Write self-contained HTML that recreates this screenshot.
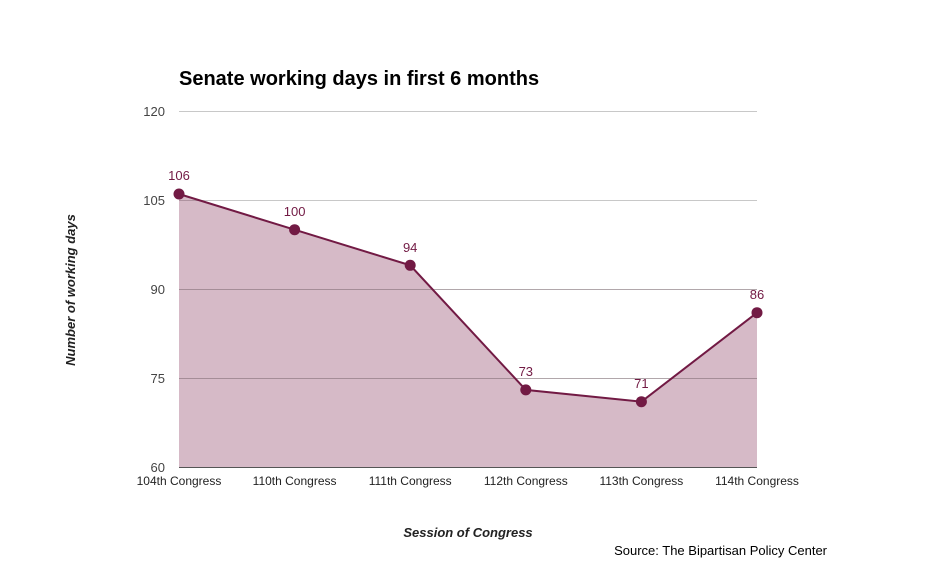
<!DOCTYPE html>
<html><head><style>body{margin:0;background:#fff}</style></head><body>
<svg width="935" height="578" xmlns="http://www.w3.org/2000/svg" font-family="Liberation Sans, Arial, sans-serif">
<rect width="935" height="578" fill="#fff"/>
<text x="179" y="85" font-size="20" font-weight="bold" fill="#000">Senate working days in first 6 months</text>
<g stroke="#c8c8c8" stroke-width="1">
<line x1="179" y1="111.5" x2="757" y2="111.5"/>
<line x1="179" y1="200.5" x2="757" y2="200.5"/>
<line x1="179" y1="289.5" x2="757" y2="289.5"/>
<line x1="179" y1="378.5" x2="757" y2="378.5"/>
</g>
<polygon points="179,194 294.6,229.7 410.2,265.3 525.8,389.9 641.4,401.7 757,312.7 757,467 179,467" fill="#761b45" fill-opacity="0.3"/>
<g stroke="#9c8890" stroke-width="1" opacity="0.5">
<line x1="179" y1="289.5" x2="757" y2="289.5"/>
<line x1="179" y1="378.5" x2="757" y2="378.5"/>
</g>
<line x1="179" y1="467.5" x2="757" y2="467.5" stroke="#555" stroke-width="1"/>
<polyline points="179,194 294.6,229.7 410.2,265.3 525.8,389.9 641.4,401.7 757,312.7" fill="none" stroke="#721a44" stroke-width="2"/>
<g fill="#721a44">
<circle cx="179" cy="194" r="5.5"/><circle cx="294.6" cy="229.7" r="5.5"/><circle cx="410.2" cy="265.3" r="5.5"/>
<circle cx="525.8" cy="389.9" r="5.5"/><circle cx="641.4" cy="401.7" r="5.5"/><circle cx="757" cy="312.7" r="5.5"/>
</g>
<g font-size="13" fill="#721a44" text-anchor="middle">
<text x="179" y="180">106</text><text x="294.6" y="216">100</text><text x="410.2" y="252">94</text>
<text x="525.8" y="376">73</text><text x="641.4" y="388">71</text><text x="757" y="299">86</text>
</g>
<g font-size="13" fill="#444" text-anchor="end">
<text x="165" y="116">120</text><text x="165" y="205">105</text><text x="165" y="294">90</text>
<text x="165" y="383">75</text><text x="165" y="472">60</text>
</g>
<g font-size="12" fill="#222" text-anchor="middle">
<text x="179" y="485">104th Congress</text><text x="294.6" y="485">110th Congress</text><text x="410.2" y="485">111th Congress</text>
<text x="525.8" y="485">112th Congress</text><text x="641.4" y="485">113th Congress</text><text x="757" y="485">114th Congress</text>
</g>
<text x="468" y="537" font-size="13" font-weight="bold" font-style="italic" text-anchor="middle" fill="#222">Session of Congress</text>
<text transform="translate(75,290) rotate(-90)" font-size="13" font-weight="bold" font-style="italic" text-anchor="middle" fill="#222">Number of working days</text>
<text x="827" y="555" font-size="13" text-anchor="end" fill="#000">Source: The Bipartisan Policy Center</text>
</svg>
</body></html>
